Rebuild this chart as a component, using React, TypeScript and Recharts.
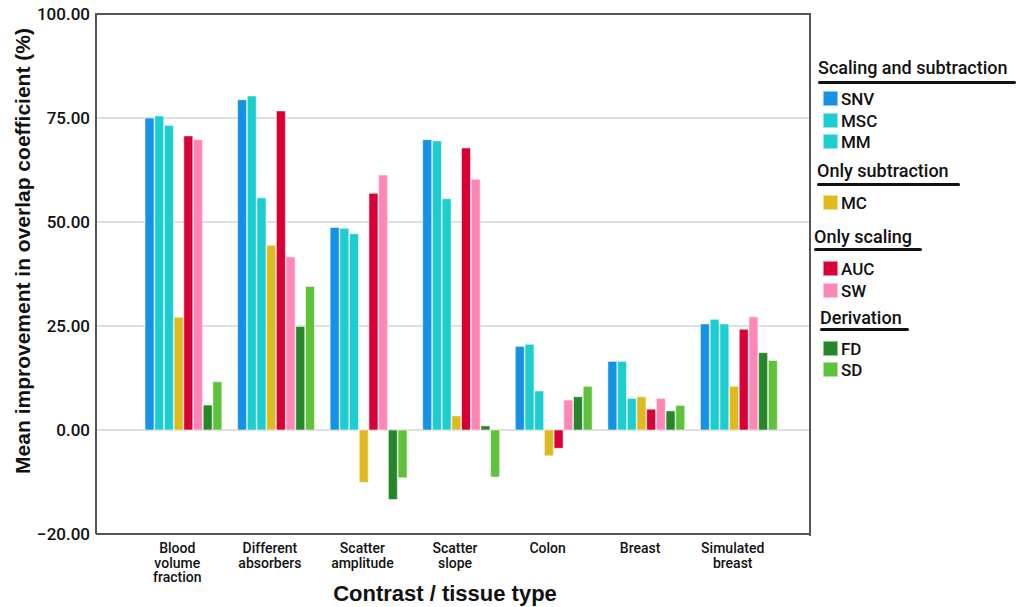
import React from 'react';
import { BarChart, Bar, XAxis, YAxis, CartesianGrid } from 'recharts';

const categories = [
  'Blood volume fraction',
  'Different absorbers',
  'Scatter amplitude',
  'Scatter slope',
  'Colon',
  'Breast',
  'Simulated breast',
];
const categoryLines = [
  ['Blood', 'volume', 'fraction'],
  ['Different', 'absorbers'],
  ['Scatter', 'amplitude'],
  ['Scatter', 'slope'],
  ['Colon'],
  ['Breast'],
  ['Simulated', 'breast'],
];

const seriesNames = ['SNV', 'MSC', 'MM', 'MC', 'AUC', 'SW', 'FD', 'SD'];
const seriesColors = ['#1591e6', '#1dcdd0', '#1dcdd0', '#e0b91f', '#d80035', '#ff87b5', '#26872a', '#5ec23a'];

const snv = [75.0, 79.4, 48.7, 69.8, 20.1, 16.5, 25.5];
const msc = [75.5, 80.3, 48.5, 69.5, 20.6, 16.5, 26.6];
const mm = [73.2, 55.8, 47.2, 55.6, 9.4, 7.6, 25.5];
const mc = [27.1, 44.4, -12.6, 3.4, -6.2, 8.0, 10.5];
const auc = [70.7, 76.7, 56.9, 67.8, -4.4, 5.0, 24.2];
const sw = [69.8, 41.6, 61.3, 60.3, 7.2, 7.6, 27.2];
const fd = [6.0, 24.9, -16.7, 1.0, 8.0, 4.6, 18.6];
const sd = [11.6, 34.5, -11.5, -11.3, 10.5, 5.9, 16.7];

const seriesValues = [snv, msc, mm, mc, auc, sw, fd, sd];

const yTicks = [-25, 0, 25, 50, 75, 100];
const yTickLabels = ['\u221220.00', '0.00', '25.00', '50.00', '75.00', '100.00'];

const legendGroups = [
  { title: 'Scaling and subtraction', items: ['SNV', 'MSC', 'MM'] },
  { title: 'Only subtraction', items: ['MC'] },
  { title: 'Only scaling', items: ['AUC', 'SW'] },
  { title: 'Derivation', items: ['FD', 'SD'] },
];

const data = categories.map((name, i) => {
  const row: Record<string, any> = { name };
  seriesNames.forEach((s, k) => {
    row[s] = seriesValues[k][i];
  });
  return row;
});

// legend block layout (header y, underline y, x, underline width)
const headerLayout = [
  { y: 68, line: 82, x: 818, w: 198 },
  { y: 171, line: 184, x: 817, w: 143 },
  { y: 237, line: 249, x: 814, w: 108 },
  { y: 318, line: 329, x: 820, w: 89 },
];
const itemYs = [[98, 119.5, 140.7], [201.7], [268.3, 290], [347.7, 369.3]];

const XTick = (props: any) => {
  const { x, y, index } = props;
  const lines = categoryLines[index] || [];
  return (
    <text x={x - 6} y={y} textAnchor="middle" fontFamily="Roboto" fontWeight={500} fontSize={14} fill="#111">
      {lines.map((l, i) => (
        <tspan key={i} x={x - 6} y={y + 11 + i * 14.5}>
          {l}
        </tspan>
      ))}
    </text>
  );
};

const YTick = (props: any) => {
  const { x, y, payload } = props;
  const idx = yTicks.indexOf(payload.value);
  return (
    <text x={x + 2} y={y} dy={6} textAnchor="end" fontFamily="Roboto" fontWeight={500} fontSize={17} fill="#111">
      {yTickLabels[idx]}
    </text>
  );
};

export default function App() {
  return (
    <div style={{ position: 'relative', width: 1021, height: 607, background: '#fff' }}>
      <style>{`body{margin:0}`}</style>
      <BarChart
        width={1021}
        height={607}
        data={data}
        margin={{ top: 14, right: 211, bottom: 0, left: 0 }}
        barSize={9}
        barGap={0.7}
      >
        <CartesianGrid vertical={false} stroke="#d4d4d4" strokeWidth={1.5} />
        <XAxis
          dataKey="name"
          interval={0}
          height={73}
          padding={{ left: 41, right: 25 }}
          axisLine={{ stroke: '#555', strokeWidth: 2 }}
          tickLine={false}
          tick={<XTick />}
          label={{
            content: () => (
              <text x={445} y={601} textAnchor="middle" fontFamily="Liberation Sans" fontWeight="bold" fontSize={22} fill="#111">
                Contrast / tissue type
              </text>
            ),
          }}
        />
        <YAxis
          width={96}
          domain={[-25, 100]}
          ticks={yTicks}
          interval={0}
          axisLine={{ stroke: '#555', strokeWidth: 2 }}
          tickLine={false}
          tick={<YTick />}
          label={{
            content: () => (
              <text
                x={22}
                y={251}
                transform="rotate(-90, 22, 251)"
                textAnchor="middle"
                dominantBaseline="central"
                fontFamily="Liberation Sans"
                fontWeight="bold"
                fontSize={21}
                fill="#111"
              >
                Mean improvement in overlap coefficient (%)
              </text>
            ),
          }}
        />
        {seriesNames.map((s, k) => (
          <Bar
            key={s}
            dataKey={s}
            fill={seriesColors[k]}
            stroke="rgba(255,255,255,0.55)"
            strokeWidth={1}
            isAnimationActive={false}
          />
        ))}
      </BarChart>

      {/* top and right edges of the plot frame */}
      <div
        style={{
          position: 'absolute',
          left: 95,
          top: 13,
          width: 714,
          height: 521,
          borderTop: '2px solid #555',
          borderRight: '2px solid #555',
          pointerEvents: 'none',
        }}
      />

      {legendGroups.map((g, gi) => {
        const h = headerLayout[gi];
        return (
          <React.Fragment key={g.title}>
            <div
              style={{
                position: 'absolute',
                left: h.x,
                top: h.y - 11,
                height: 22,
                lineHeight: '22px',
                fontFamily: 'Roboto',
                fontWeight: 500,
                fontSize: 18,
                color: '#111',
                whiteSpace: 'nowrap',
              }}
            >
              {g.title}
            </div>
            <div
              style={{
                position: 'absolute',
                left: h.x,
                top: h.line - 1.5,
                width: h.w,
                height: 3,
                borderRadius: 2,
                background: '#111',
              }}
            />
            {g.items.map((it, ii) => {
              const k = seriesNames.indexOf(it);
              const cy = itemYs[gi][ii];
              return (
                <React.Fragment key={it}>
                  <div
                    style={{
                      position: 'absolute',
                      left: 823,
                      top: cy - 7,
                      width: 15,
                      height: 15,
                      boxSizing: 'border-box',
                      background: seriesColors[k],
                      border: '1px solid rgba(255,255,255,0.5)',
                    }}
                  />
                  <div
                    style={{
                      position: 'absolute',
                      left: 841,
                      top: cy - 10,
                      height: 22,
                      lineHeight: '22px',
                      fontFamily: 'Roboto',
                      fontWeight: 500,
                      fontSize: 17,
                      color: '#111',
                    }}
                  >
                    {it}
                  </div>
                </React.Fragment>
              );
            })}
          </React.Fragment>
        );
      })}
    </div>
  );
}
